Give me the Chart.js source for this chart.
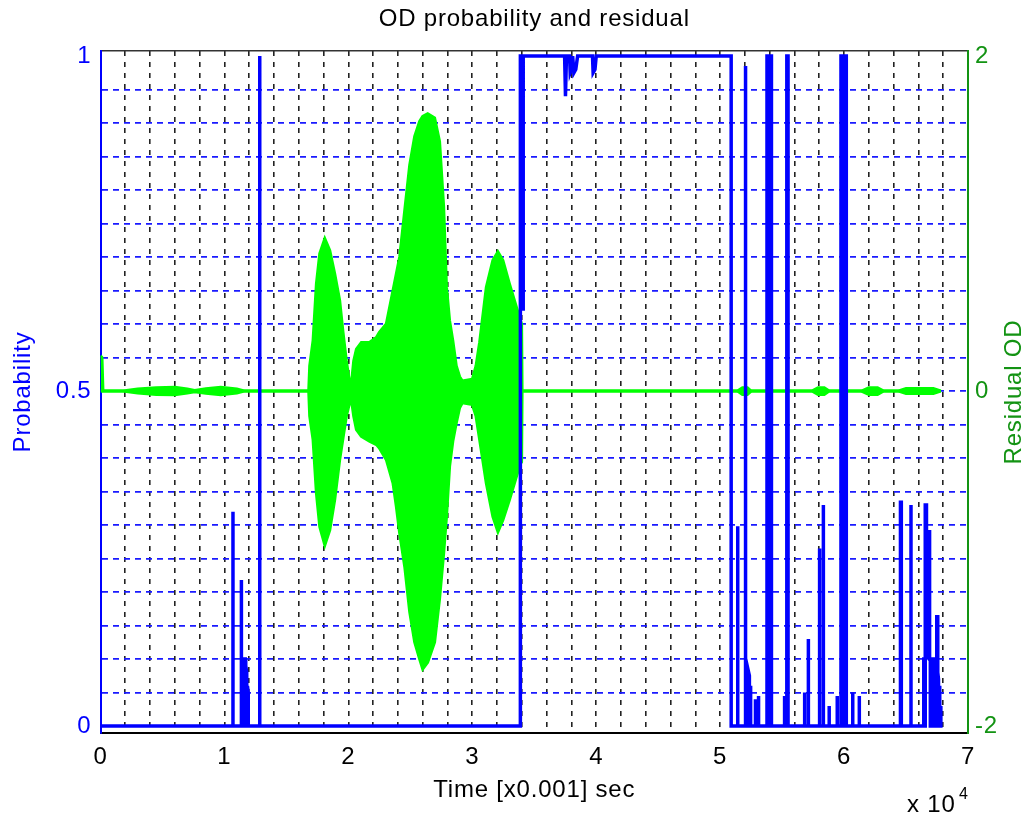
<!DOCTYPE html>
<html lang="en">
<head>
    <meta charset="UTF-8">
    <title>OD probability and residual</title>
    <script src="https://cdn.jsdelivr.net/npm/chart.js"></script>
    <style>
        body {
            margin: 0;
            background-color: white;
        }
        canvas {
            display: block;
        }
    </style>
</head>
<body>

    <canvas id="odChart" width="1030" height="818"></canvas>

    <script>
        // Time axis is in units of 1e4 (shown as "x 10^4" under the axis)
        const timeTicks = [0, 0.2, 0.4, 0.6, 0.8, 1, 1.2, 1.4, 1.6, 1.8, 2, 2.2, 2.4, 2.6, 2.8, 3, 3.2, 3.4, 3.6, 3.8,
                           4, 4.2, 4.4, 4.6, 4.8, 5, 5.2, 5.4, 5.6, 5.8, 6, 6.2, 6.4, 6.6, 6.8, 7];
        const timeLabels = ['0', '1', '2', '3', '4', '5', '6', '7'];

        const probTicks = [0, 0.05, 0.1, 0.15, 0.2, 0.25, 0.3, 0.35, 0.4, 0.45, 0.5,
                           0.55, 0.6, 0.65, 0.7, 0.75, 0.8, 0.85, 0.9, 0.95, 1];
        const probLabels = { 0: '0', 0.5: '0.5', 1: '1' };
        const residualTicks = [-2, 0, 2];

        // OD probability trace [time, probability]
        const probabilityTrace = [
            [0, 0], [1.069, 0], [1.069, 0.32], [1.069, 0],
            [1.137, 0], [1.137, 0.218], [1.137, 0],
            [1.15, 0], [1.15, 0.10], [1.156, 0.10], [1.156, 0], [1.162, 0], [1.162, 0.10], [1.168, 0.10],
            [1.168, 0], [1.174, 0], [1.174, 0.09], [1.18, 0.08], [1.18, 0], [1.186, 0], [1.186, 0.06],
            [1.192, 0.05], [1.192, 0],
            [1.285, 0], [1.285, 1], [1.285, 0],
            [3.388, 0], [3.388, 1], [3.41, 1], [3.41, 0.62], [3.412, 1],
            [3.745, 1], [3.752, 0.94], [3.76, 1],
            [3.785, 1], [3.79, 0.975], [3.8, 0.98], [3.81, 1], [3.82, 0.975], [3.835, 0.98], [3.85, 1],
            [3.97, 1], [3.975, 0.975], [3.99, 0.98], [4.0, 1],
            [5.089, 1], [5.089, 0],
            [5.142, 0], [5.142, 0.298], [5.142, 0],
            [5.205, 0], [5.205, 0.985], [5.205, 0],
            [5.218, 0], [5.218, 0.08], [5.224, 0.08], [5.224, 0], [5.23, 0], [5.23, 0.08], [5.236, 0.075],
            [5.236, 0], [5.242, 0], [5.242, 0.06], [5.248, 0.05], [5.248, 0],
            [5.285, 0], [5.285, 0.04], [5.285, 0],
            [5.31, 0], [5.31, 0.045], [5.31, 0],
            [5.378, 0], [5.378, 1], [5.39, 1], [5.39, 0], [5.402, 0], [5.402, 1], [5.414, 1], [5.414, 0],
            [5.52, 0], [5.52, 0.045], [5.52, 0],
            [5.538, 0], [5.538, 1], [5.548, 1], [5.548, 0],
            [5.682, 0], [5.682, 0.05], [5.682, 0],
            [5.712, 0], [5.712, 0.13], [5.712, 0],
            [5.80, 0], [5.80, 0.265], [5.805, 0],
            [5.833, 0], [5.833, 0.33], [5.833, 0],
            [5.88, 0], [5.88, 0.03], [5.88, 0],
            [5.945, 0], [5.945, 0.045], [5.945, 0],
            [5.975, 0], [5.975, 1], [5.99, 1], [5.99, 0], [6.003, 0], [6.003, 1], [6.018, 1], [6.018, 0],
            [6.07, 0], [6.07, 0.05], [6.07, 0],
            [6.123, 0], [6.123, 0.045], [6.123, 0],
            [6.455, 0], [6.455, 0.334], [6.462, 0.334], [6.462, 0],
            [6.54, 0], [6.54, 0.33], [6.54, 0],
            [6.643, 0], [6.643, 0.10], [6.649, 0.10], [6.649, 0], [6.655, 0], [6.655, 0.33], [6.665, 0.33],
            [6.665, 0.10], [6.672, 0.29], [6.69, 0.29], [6.69, 0.10], [6.696, 0.10], [6.696, 0], [6.702, 0],
            [6.702, 0.10], [6.708, 0.10], [6.708, 0], [6.714, 0], [6.714, 0.10], [6.72, 0.10], [6.72, 0],
            [6.726, 0], [6.726, 0.10], [6.732, 0.10], [6.732, 0], [6.738, 0], [6.738, 0.10], [6.748, 0.10],
            [6.748, 0.163], [6.756, 0.163], [6.756, 0.08], [6.762, 0.07], [6.762, 0], [6.768, 0], [6.768, 0.06],
            [6.774, 0.05], [6.774, 0], [6.78, 0], [6.78, 0.03], [6.782, 0]
        ];

        // Residual OD: envelope of the fast oscillation (upper / lower edge)
        const residualTime = [
            0, 0.012, 0.02, 0.18, 0.3, 0.45, 0.6, 0.7, 0.76, 0.85, 0.97, 1.1, 1.16,
            1.68, 1.688, 1.715, 1.742, 1.769, 1.81, 1.85, 1.89, 1.93, 1.957, 1.984, 2.01,
            2.024, 2.043, 2.065, 2.105, 2.17, 2.226, 2.25, 2.306, 2.36, 2.387, 2.414, 2.455,
            2.495, 2.535, 2.575, 2.60, 2.64, 2.696, 2.736, 2.769, 2.792, 2.817, 2.843, 2.871,
            2.898, 2.92, 3.0, 3.03, 3.059, 3.113, 3.166, 3.207, 3.247, 3.30, 3.381, 3.398, 3.402,
            5.14, 5.18, 5.22, 5.25, 5.74, 5.79, 5.84, 5.88, 6.14, 6.2, 6.27, 6.32, 6.44, 6.5, 6.72, 6.78
        ];
        const residualUpper = [
            0.21, 0.2, 0, 0, 0.012, 0.02, 0.022, 0.012, 0.004, 0.014, 0.022, 0.012, 0,
            0, 0.15, 0.30, 0.64, 0.82, 0.91, 0.84, 0.70, 0.54, 0.35, 0.18, 0.05,
            0.04, 0.18, 0.25, 0.29, 0.29, 0.32, 0.35, 0.40, 0.60, 0.70, 0.80, 1.08,
            1.35, 1.52, 1.61, 1.64, 1.655, 1.63, 1.49, 1.10, 0.62, 0.42, 0.30, 0.15,
            0.085, 0.06, 0.07, 0.15, 0.29, 0.62, 0.78, 0.83, 0.78, 0.64, 0.44, 0.40, 0,
            0, 0.02, 0.02, 0, 0, 0.02, 0.02, 0, 0, 0.02, 0.02, 0, 0, 0.015, 0.015, 0
        ];
        const residualLower = [
            0, 0, 0, 0, -0.012, -0.02, -0.022, -0.012, -0.004, -0.014, -0.022, -0.012, 0,
            0, -0.15, -0.29, -0.61, -0.81, -0.92, -0.83, -0.65, -0.41, -0.28, -0.15, -0.07,
            -0.05, -0.15, -0.23, -0.27, -0.30, -0.32, -0.34, -0.41, -0.55, -0.69, -0.85, -1.05,
            -1.32, -1.50, -1.60, -1.66, -1.62, -1.50, -1.24, -0.97, -0.75, -0.45, -0.30, -0.19,
            -0.10, -0.07, -0.08, -0.15, -0.29, -0.55, -0.75, -0.84, -0.77, -0.65, -0.45, -0.42, 0,
            0, -0.02, -0.02, 0, 0, -0.02, -0.02, 0, 0, -0.02, -0.02, 0, 0, -0.015, -0.015, 0
        ];

        const FONT = "'Liberation Sans', Arial, Helvetica, sans-serif";
        const BLUE = '#0000ff';
        const GREEN = '#00ff00';
        const AXIS_GREEN = '#139313';

        Chart.defaults.font.family = FONT;
        Chart.defaults.font.size = 24;
        Chart.defaults.color = '#000';

        // The reference text is a bit wider than Liberation Sans, open it up slightly
        const letterSpacing = {
            id: 'letterSpacing',
            beforeDraw(chart) {
                chart.ctx.letterSpacing = '0.8px';
            }
        };

        // Right label and the "x 10^4" exponent, drawn after the chart
        const extraText = {
            id: 'extraText',
            afterDraw(chart) {
                const ctx = chart.ctx;
                const area = chart.chartArea;
                ctx.save();
                ctx.fillStyle = AXIS_GREEN;
                ctx.font = '24px ' + FONT;
                ctx.textAlign = 'center';
                ctx.textBaseline = 'middle';
                ctx.translate(1014, (area.top + area.bottom) / 2);
                ctx.rotate(-Math.PI / 2);
                ctx.fillText('Residual OD', 0, 0);
                ctx.restore();

                ctx.save();
                ctx.fillStyle = '#000';
                ctx.textAlign = 'left';
                ctx.textBaseline = 'alphabetic';
                ctx.font = '24px ' + FONT;
                ctx.fillText('x 10', 907, 812);
                ctx.font = '16px ' + FONT;
                ctx.fillText('4', 959, 799);
                ctx.restore();
            }
        };

        const ctx = document.getElementById('odChart').getContext('2d');

        const odChart = new Chart(ctx, {
            type: 'line',
            data: {
                datasets: [
                    {
                        label: 'Probability',
                        data: probabilityTrace.map(p => ({ x: p[0], y: p[1] })),
                        yAxisID: 'y',
                        borderColor: BLUE,
                        borderWidth: 3.5,
                        pointRadius: 0,
                        tension: 0,
                        fill: false
                    },
                    {
                        label: 'Residual upper',
                        data: residualTime.map((t, i) => ({ x: t, y: residualUpper[i] })),
                        yAxisID: 'y2',
                        borderColor: GREEN,
                        backgroundColor: GREEN,
                        borderWidth: 3,
                        pointRadius: 0,
                        tension: 0,
                        fill: '+1'
                    },
                    {
                        label: 'Residual lower',
                        data: residualTime.map((t, i) => ({ x: t, y: residualLower[i] })),
                        yAxisID: 'y2',
                        borderColor: GREEN,
                        borderWidth: 3,
                        pointRadius: 0,
                        tension: 0,
                        fill: false
                    }
                ]
            },
            options: {
                responsive: false,
                animation: false,
                layout: { padding: 0 },
                plugins: {
                    legend: { display: false },
                    tooltip: { enabled: false },
                    title: {
                        display: true,
                        fullSize: false,
                        text: 'OD probability and residual',
                        color: '#000',
                        font: { size: 24, weight: 'normal' },
                        padding: { top: 5, bottom: 17.2 }
                    }
                },
                scales: {
                    x: {
                        type: 'linear',
                        position: 'bottom',
                        min: 0,
                        max: 7,
                        afterBuildTicks: s => { s.ticks = timeTicks.map(v => ({ value: v })); },
                        afterFit: s => { s.height = 85; },
                        ticks: {
                            autoSkip: false,
                            maxRotation: 0,
                            padding: 10,
                            color: '#000',
                            callback: v => Math.abs(v - Math.round(v)) < 1e-6 ? timeLabels[Math.round(v)] : ''
                        },
                        grid: {
                            drawTicks: false,
                            lineWidth: 1.6,
                            color: c => (c.tick && (c.tick.value === 0 || c.tick.value === 7)) ? 'rgba(0,0,0,0)' : '#222'
                        },
                        border: { color: '#000', width: 2, dash: [5, 6] },
                        title: {
                            display: true,
                            text: 'Time [x0.001] sec',
                            color: '#000',
                            padding: { top: 0, bottom: 13 }
                        }
                    },
                    x2: {
                        type: 'linear',
                        position: 'top',
                        min: 0,
                        max: 7,
                        afterFit: s => { s.height = 0; },
                        ticks: { display: false },
                        grid: { drawOnChartArea: false, drawTicks: false },
                        border: { color: '#333', width: 1.5 }
                    },
                    y: {
                        type: 'linear',
                        position: 'left',
                        min: -0.0104,
                        max: 1.0075,
                        afterBuildTicks: s => { s.ticks = probTicks.map(v => ({ value: v })); },
                        afterFit: s => { s.width = 100.5; },
                        ticks: {
                            autoSkip: false,
                            padding: 9,
                            color: BLUE,
                            callback: v => probLabels[v] !== undefined ? probLabels[v] : ''
                        },
                        grid: {
                            drawTicks: false,
                            lineWidth: 1.8,
                            color: c => (c.tick && (c.tick.value === 0 || c.tick.value === 1)) ? 'rgba(0,0,0,0)' : '#1a1aff'
                        },
                        border: { color: BLUE, width: 2, dash: [6, 5] },
                        title: {
                            display: true,
                            text: 'Probability',
                            color: BLUE,
                            padding: { top: 9, bottom: 0 }
                        }
                    },
                    y2: {
                        type: 'linear',
                        position: 'right',
                        min: -2.0416,
                        max: 2.03,
                        afterBuildTicks: s => { s.ticks = residualTicks.map(v => ({ value: v })); },
                        afterFit: s => { s.width = 62; },
                        ticks: {
                            autoSkip: false,
                            padding: 7,
                            color: AXIS_GREEN,
                            callback: v => String(v)
                        },
                        grid: { drawOnChartArea: false, drawTicks: false },
                        border: { color: AXIS_GREEN, width: 2 }
                    }
                }
            },
            plugins: [letterSpacing, extraText]
        });
    </script>
</body>
</html>
